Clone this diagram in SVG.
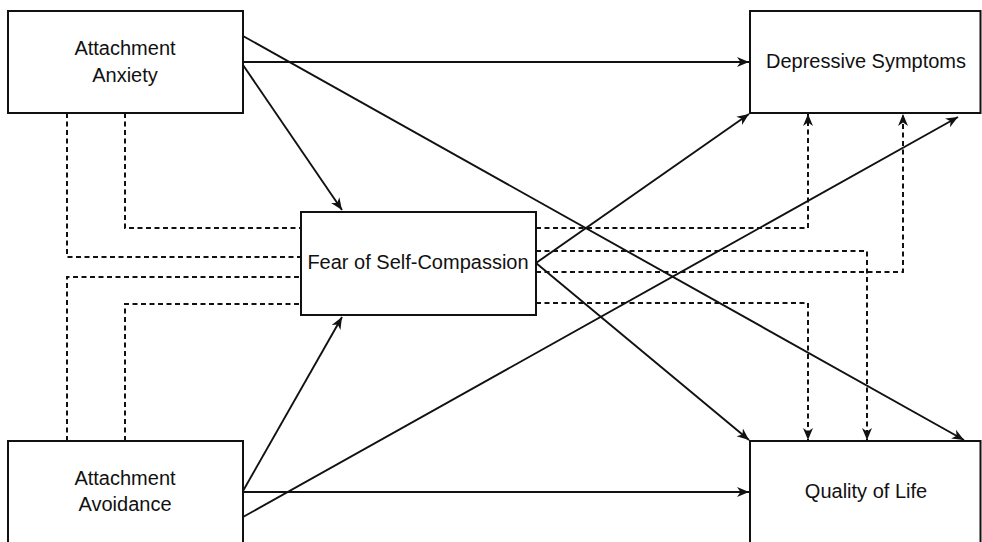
<svg xmlns="http://www.w3.org/2000/svg" width="982" height="542" viewBox="0 0 982 542">
<defs>
<marker id="arr" markerUnits="userSpaceOnUse" markerWidth="14" markerHeight="12" refX="12" refY="6" orient="auto">
<path d="M0,1 L12,6 L0,11 L3.5,6 z" fill="#111" stroke="none"/>
</marker>
<style>
.box{fill:#fff;stroke:#111;stroke-width:2}
.lbl{font-family:"Liberation Sans",Arial,sans-serif;font-size:20px;fill:#111;text-anchor:middle}
.s{fill:none;stroke:#111;stroke-width:1.9}
.d{fill:none;stroke:#111;stroke-width:2;stroke-dasharray:5 3.5}
</style>
</defs>
<rect width="982" height="542" fill="#fff"/>
<g id="connectors">
<path class="d" d="M67,113 V257 H301"/>
<path class="d" d="M125,113 V228 H301"/>
<path class="d" d="M67,441 V277 H301"/>
<path class="d" d="M125,441 V304 H301"/>
<path class="d" d="M536,228 H808 V114" marker-end="url(#arr)"/>
<path class="d" d="M536,251 H867 V440" marker-end="url(#arr)"/>
<path class="d" d="M536,272 H903 V114" marker-end="url(#arr)"/>
<path class="d" d="M536,303 H808 V440" marker-end="url(#arr)"/>
<path class="s" d="M243,62 H749" marker-end="url(#arr)"/>
<path class="s" d="M243,36 L964,440" marker-end="url(#arr)"/>
<path class="s" d="M243,65 L342,210" marker-end="url(#arr)"/>
<path class="s" d="M536,263 L749,114" marker-end="url(#arr)"/>
<path class="s" d="M536,263 L749,440" marker-end="url(#arr)"/>
<path class="s" d="M243,491 L342,317" marker-end="url(#arr)"/>
<path class="s" d="M243,492 H749" marker-end="url(#arr)"/>
<path class="s" d="M243,517 L958,117" marker-end="url(#arr)"/>
</g>
<g id="anxiety">
<rect class="box" x="8" y="11" width="235" height="102"/>
<text class="lbl" x="125" y="55">Attachment</text>
<text class="lbl" x="125" y="82">Anxiety</text>
</g>
<g id="avoidance">
<rect class="box" x="8" y="441" width="235" height="104"/>
<text class="lbl" x="125" y="485">Attachment</text>
<text class="lbl" x="125" y="511">Avoidance</text>
</g>
<g id="fear">
<rect class="box" x="301" y="212" width="235" height="103"/>
<text class="lbl" x="418" y="269">Fear of Self-Compassion</text>
</g>
<g id="depressive">
<rect class="box" x="750" y="11" width="230.5" height="102"/>
<text class="lbl" x="866" y="68">Depressive Symptoms</text>
</g>
<g id="quality">
<rect class="box" x="750" y="441" width="230.5" height="104"/>
<text class="lbl" x="866" y="498">Quality of Life</text>
</g>
</svg>
